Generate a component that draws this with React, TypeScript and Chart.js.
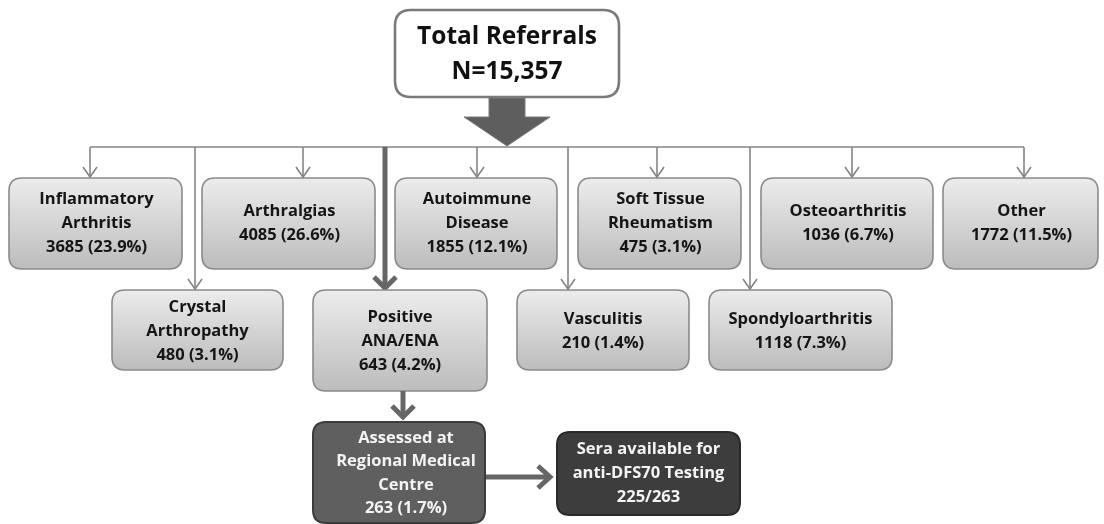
import React, { useEffect, useRef } from "react";
import { Chart, registerables } from "chart.js";

Chart.register(...registerables);

// ---- Data ----
const totalReferrals = 15357;
const row1Names: string[][] = [
  ["Inflammatory", "Arthritis"],
  ["Arthralgias"],
  ["Autoimmune", "Disease"],
  ["Soft Tissue", "Rheumatism"],
  ["Osteoarthritis"],
  ["Other"],
];
const row1Counts = [3685, 4085, 1855, 475, 1036, 1772];
const row1Pcts = [23.9, 26.6, 12.1, 3.1, 6.7, 11.5];
const row2Names: string[][] = [
  ["Crystal", "Arthropathy"],
  ["Positive", "ANA/ENA"],
  ["Vasculitis"],
  ["Spondyloarthritis"],
];
const row2Counts = [480, 643, 210, 1118];
const row2Pcts = [3.1, 4.2, 1.4, 7.3];
const assessedLabel = ["Assessed at", "Regional Medical", "Centre"];
const assessedCount = 263;
const assessedPct = 1.7;
const seraLabel = ["Sera available for", "anti-DFS70 Testing"];
const seraAvailable = 225;

// ---- Layout (in scale units) ----
const topBox = { x0: 395, x1: 619, y0: 10, y1: 97 };
const row1X = [[9, 182], [202, 375], [395, 557], [578, 741], [761, 933], [943, 1098]];
const row1Y = [178, 269];
const row1Arrow = [90, 303, 477, 657, 852, 1024];
const row2X = [[112, 283], [313, 487], [517, 689], [709, 892]];
const row2Y0 = 290;
const row2Y1 = [370, 391, 370, 370];
const row2Line = [195, 385, 568, 750];
const busY = 147;
const assessedBox = { x0: 313, x1: 485, y0: 422, y1: 523 };
const seraBox = { x0: 557, x1: 740, y0: 432, y1: 515 };

const FONT = '"Open Sans", "Lato", "DejaVu Sans", sans-serif';

function roundRect(ctx: CanvasRenderingContext2D, x0: number, y0: number, x1: number, y1: number, r: number) {
  ctx.beginPath();
  ctx.moveTo(x0 + r, y0);
  ctx.lineTo(x1 - r, y0);
  ctx.quadraticCurveTo(x1, y0, x1, y0 + r);
  ctx.lineTo(x1, y1 - r);
  ctx.quadraticCurveTo(x1, y1, x1 - r, y1);
  ctx.lineTo(x0 + r, y1);
  ctx.quadraticCurveTo(x0, y1, x0, y1 - r);
  ctx.lineTo(x0, y0 + r);
  ctx.quadraticCurveTo(x0, y0, x0 + r, y0);
  ctx.closePath();
}

const flowPlugin = {
  id: "flow",
  afterDraw(chart: any) {
    const ctx: CanvasRenderingContext2D = chart.ctx;
    const xs = chart.scales.x;
    const ys = chart.scales.y;
    const px = (v: number) => xs.getPixelForValue(v);
    const py = (v: number) => ys.getPixelForValue(v);
    ctx.save();

    const lightBox = (x0: number, x1: number, y0: number, y1: number) => {
      const g = ctx.createLinearGradient(0, py(y0), 0, py(y1));
      g.addColorStop(0, "#ececec");
      g.addColorStop(1, "#bcbcbc");
      roundRect(ctx, px(x0), py(y0), px(x1), py(y1), 13);
      ctx.fillStyle = g;
      ctx.fill();
      ctx.lineWidth = 1.6;
      ctx.strokeStyle = "#8a8a8a";
      ctx.stroke();
    };
    const text = (lines: string[], cx: number, cy: number, size: number, lh: number, color: string) => {
      ctx.font = `bold ${size}px ${FONT}`;
      ctx.fillStyle = color;
      ctx.textAlign = "center";
      ctx.textBaseline = "middle";
      const n = lines.length;
      lines.forEach((l, i) => {
        ctx.fillText(l, px(cx), py(cy) + (i - (n - 1) / 2) * lh);
      });
    };
    const thinArrow = (x: number, y0: number, y1: number, head: boolean) => {
      ctx.strokeStyle = "#858585";
      ctx.lineWidth = 1.6;
      ctx.beginPath();
      ctx.moveTo(px(x), py(y0));
      ctx.lineTo(px(x), py(y1));
      ctx.stroke();
      if (head) {
        ctx.beginPath();
        ctx.moveTo(px(x) - 7, py(y1) - 11);
        ctx.lineTo(px(x), py(y1) - 1);
        ctx.lineTo(px(x) + 7, py(y1) - 11);
        ctx.stroke();
      }
    };

    // bus line
    ctx.strokeStyle = "#858585";
    ctx.lineWidth = 1.6;
    ctx.beginPath();
    ctx.moveTo(px(row1Arrow[0]), py(busY));
    ctx.lineTo(px(row1Arrow[row1Arrow.length - 1]), py(busY));
    ctx.stroke();

    row1Arrow.forEach((x) => thinArrow(x, busY, row1Y[0], true));
    row2Line.forEach((x, i) => {
      if (i === 1) return;
      thinArrow(x, busY, row2Y0, true);
    });
    const thick = (x0: number, y0: number, x1: number, y1: number) => {
      ctx.strokeStyle = "#666666";
      ctx.lineWidth = 5;
      ctx.lineCap = "butt";
      ctx.beginPath();
      ctx.moveTo(px(x0), py(y0));
      ctx.lineTo(px(x1), py(y1));
      ctx.stroke();
    };
    const thickHeadDown = (x: number, y: number) => {
      ctx.strokeStyle = "#666666";
      ctx.lineWidth = 5;
      ctx.lineJoin = "miter";
      ctx.beginPath();
      ctx.moveTo(px(x) - 11, py(y) - 13);
      ctx.lineTo(px(x), py(y) - 2);
      ctx.lineTo(px(x) + 11, py(y) - 13);
      ctx.stroke();
    };
    thick(row2Line[1], busY, row2Line[1], row2Y0 - 2);
    thickHeadDown(row2Line[1], row2Y0);

    // Top box
    roundRect(ctx, px(topBox.x0), py(topBox.y0), px(topBox.x1), py(topBox.y1), 16);
    ctx.fillStyle = "#ffffff";
    ctx.fill();
    ctx.lineWidth = 2.6;
    ctx.strokeStyle = "#7a7a7a";
    ctx.stroke();
    text(["Total Referrals", "N=" + totalReferrals.toLocaleString("en-US")], (topBox.x0 + topBox.x1) / 2, (topBox.y0 + topBox.y1) / 2 + 1, 24.5, 35, "#111111");

    // Big arrow
    const cx = (topBox.x0 + topBox.x1) / 2;
    ctx.beginPath();
    ctx.moveTo(px(cx - 18), py(topBox.y1 + 1));
    ctx.lineTo(px(cx + 18), py(topBox.y1 + 1));
    ctx.lineTo(px(cx + 18), py(117));
    ctx.lineTo(px(cx + 43), py(117));
    ctx.lineTo(px(cx), py(146));
    ctx.lineTo(px(cx - 43), py(117));
    ctx.lineTo(px(cx - 18), py(117));
    ctx.closePath();
    ctx.fillStyle = "#5e5e5e";
    ctx.fill();
    ctx.lineWidth = 1;
    ctx.strokeStyle = "#7a7a7a";
    ctx.stroke();

    row1X.forEach(([x0, x1], i) => {
      lightBox(x0, x1, row1Y[0], row1Y[1]);
      const lines = [...row1Names[i], `${row1Counts[i]} (${row1Pcts[i].toFixed(1)}%)`];
      text(lines, (x0 + x1) / 2 + 1, (row1Y[0] + row1Y[1]) / 2, 16.5, 24, "#151515");
    });
    row2X.forEach(([x0, x1], i) => {
      lightBox(x0, x1, row2Y0, row2Y1[i]);
      const lines = [...row2Names[i], `${row2Counts[i]} (${row2Pcts[i].toFixed(1)}%)`];
      text(lines, (x0 + x1) / 2, (row2Y0 + row2Y1[i]) / 2 + 1, 16.5, 24, "#151515");
    });

    const ax = (row2X[1][0] + row2X[1][1]) / 2 + 3;
    thick(ax, row2Y1[1], ax, assessedBox.y0 - 6);
    thickHeadDown(ax, assessedBox.y0 - 3);

    roundRect(ctx, px(assessedBox.x0), py(assessedBox.y0), px(assessedBox.x1), py(assessedBox.y1), 13);
    ctx.fillStyle = "#5f5f5f";
    ctx.fill();
    ctx.lineWidth = 2;
    ctx.strokeStyle = "#3c3c3c";
    ctx.stroke();
    text([...assessedLabel, `${assessedCount} (${assessedPct.toFixed(1)}%)`], (assessedBox.x0 + assessedBox.x1) / 2 + 7, (assessedBox.y0 + assessedBox.y1) / 2 + 1, 16.5, 23.5, "#f4f4f4");

    const ry = 477;
    ctx.strokeStyle = "#666666";
    ctx.lineWidth = 5;
    ctx.beginPath();
    ctx.moveTo(px(assessedBox.x1 + 1), py(ry));
    ctx.lineTo(px(seraBox.x0 - 8), py(ry));
    ctx.stroke();
    ctx.beginPath();
    ctx.moveTo(px(seraBox.x0 - 19), py(ry) - 11);
    ctx.lineTo(px(seraBox.x0 - 7), py(ry));
    ctx.lineTo(px(seraBox.x0 - 19), py(ry) + 11);
    ctx.stroke();

    roundRect(ctx, px(seraBox.x0), py(seraBox.y0), px(seraBox.x1), py(seraBox.y1), 13);
    ctx.fillStyle = "#3d3d3d";
    ctx.fill();
    ctx.lineWidth = 2;
    ctx.strokeStyle = "#2a2a2a";
    ctx.stroke();
    text([...seraLabel, `${seraAvailable}/${assessedCount}`], (seraBox.x0 + seraBox.x1) / 2, (seraBox.y0 + seraBox.y1) / 2, 16.5, 24, "#f4f4f4");

    ctx.restore();
  },
};

export default function App() {
  const ref = useRef<HTMLCanvasElement | null>(null);
  useEffect(() => {
    document.body.style.margin = "0";
    const canvas = ref.current!;
    const chart = new Chart(canvas, {
      type: "scatter",
      data: {
        datasets: [
          {
            data: row1Counts.map((c, i) => ({ x: row1Arrow[i], y: row1Y[0] })),
            pointRadius: 0,
          },
        ],
      },
      options: {
        responsive: false,
        animation: false,
        events: [],
        layout: { padding: 0 },
        plugins: { legend: { display: false }, tooltip: { enabled: false } },
        scales: {
          x: { type: "linear", min: 0, max: 1104, display: false },
          y: { type: "linear", min: 0, max: 524, reverse: true, display: false },
        },
      },
      plugins: [flowPlugin],
    });
    return () => chart.destroy();
  }, []);
  return (
    <div style={{ position: "absolute", left: 0, top: 0, width: 1104, height: 524, background: "#ffffff" }}>
      <canvas ref={ref} width={1104} height={524} style={{ width: 1104, height: 524, display: "block" }} />
    </div>
  );
}
